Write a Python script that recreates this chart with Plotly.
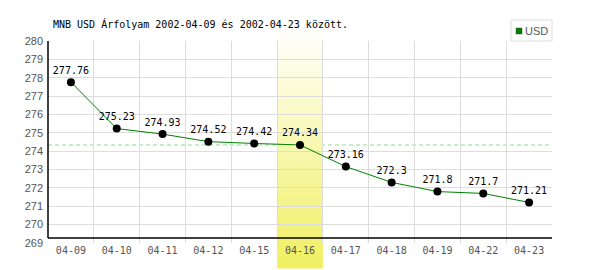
import plotly.graph_objects as go

dates = ["04-09", "04-10", "04-11", "04-12", "04-15", "04-16",
         "04-17", "04-18", "04-19", "04-22", "04-23"]
usd = [277.76, 275.23, 274.93, 274.52, 274.42, 274.34,
       273.16, 272.3, 271.8, 271.7, 271.21]
highlight = "04-16"
y_ticks = list(range(269, 281))
title_text = "MNB USD Árfolyam 2002-04-09 és 2002-04-23 között."
series_name = "USD"

W, H = 600, 270
ML, MR, MT, MB = 48, 48, 41, 27
PH = H - MT - MB

MONO = "DejaVu Sans Mono"

fig = go.Figure()
fig.add_trace(go.Scatter(
    x=dates, y=usd, mode="lines+markers+text",
    text=[f"{v:g}" for v in usd], textposition="top center",
    textfont=dict(family=MONO, size=10, color="#000000"),
    line=dict(color="#008000", width=1),
    marker=dict(color="#000000", size=8),
    showlegend=False, cliponaxis=False,
))

shapes = []
hi = dates.index(highlight)
ref_val = usd[hi]
# dashed reference line at highlighted day's value
shapes.append(dict(type="line", xref="paper", yref="y", x0=0, x1=1,
                   y0=ref_val, y1=ref_val, layer="between",
                   line=dict(color="#99d899", width=1, dash="4px,3px")))

# gradient band for highlighted day
def py(px):
    return (H - MB - px) / PH

top_px, bot_px = 28, 268
n = 48
c0 = (255, 255, 255)
c1 = (240, 240, 96)
for i in range(n):
    t = (i + 0.5) / n
    c = tuple(round(c0[k] + (c1[k] - c0[k]) * t) for k in range(3))
    y_a = top_px + (bot_px - top_px) * i / n
    y_b = top_px + (bot_px - top_px) * (i + 1) / n + 0.5
    shapes.append(dict(type="rect", xref="x", yref="paper",
                       x0=hi - 0.5, x1=hi + 0.5, y0=py(y_b), y1=py(y_a),
                       fillcolor="rgb(%d,%d,%d)" % c, line=dict(width=0),
                       layer="between"))

# black axis lines (L shape)
ax_y = py(238)
shapes.append(dict(type="line", xref="paper", yref="paper", x0=0, x1=0,
                   y0=ax_y, y1=1, layer="above",
                   line=dict(color="#000000", width=1.5)))
shapes.append(dict(type="line", xref="paper", yref="paper", x0=0, x1=1,
                   y0=ax_y, y1=ax_y, layer="above",
                   line=dict(color="#000000", width=1.5)))

# legend box
lx0 = (511 - ML) / (W - ML - MR)
lx1 = 1
shapes.append(dict(type="rect", xref="paper", yref="paper",
                   x0=lx0, x1=lx1, y0=1, y1=py(20),
                   fillcolor="#ffffff", line=dict(color="#dddddd", width=1)))
sq0 = (516 - ML) / (W - ML - MR)
sq1 = (522 - ML) / (W - ML - MR)
shapes.append(dict(type="rect", xref="paper", yref="paper",
                   x0=sq0, x1=sq1, y0=py(34), y1=py(28),
                   fillcolor="#008000", line=dict(color="#444444", width=0.5)))

annotations = [dict(text=series_name, xref="paper", yref="paper",
                    x=(523 - ML) / (W - ML - MR), y=py(31),
                    xanchor="left", yanchor="middle", showarrow=False,
                    font=dict(family="Liberation Sans", size=11, color="#555555"))]

fig.update_layout(
    width=W, height=H,
    margin=dict(l=ML, r=MR, t=MT, b=MB, pad=0),
    paper_bgcolor="#ffffff", plot_bgcolor="#ffffff",
    title=dict(text=title_text, x=53 / W, xanchor="left",
               y=1 - 24 / H, yanchor="middle",
               font=dict(family=MONO, size=10, color="#000000")),
    xaxis=dict(type="category", range=[-0.5, len(dates) - 0.5],
               tickson="boundaries", showgrid=True, gridcolor="#dddddd",
               gridwidth=1, ticks="", showline=False, zeroline=False,
               tickfont=dict(family=MONO, size=10, color="#555555")),
    yaxis=dict(range=[y_ticks[0], y_ticks[-1]], tickvals=y_ticks,
               showgrid=True, gridcolor="#dddddd", gridwidth=1,
               ticks="", showline=False, zeroline=False,
               ticklabelstandoff=4,
               tickfont=dict(family="Liberation Sans", size=11, color="#555555")),
    shapes=shapes, annotations=annotations,
    showlegend=False,
)

fig.write_html("out.html")
